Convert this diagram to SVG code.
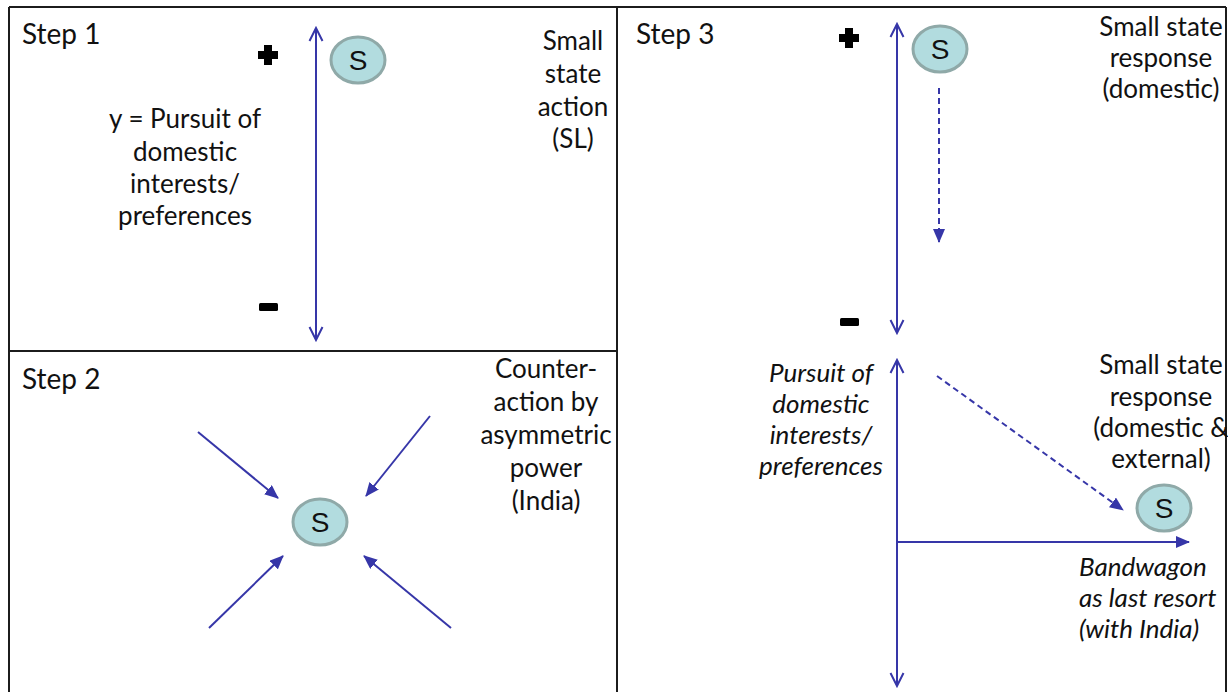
<svg xmlns="http://www.w3.org/2000/svg" width="1228" height="692" viewBox="0 0 1228 692">
  <style>
    .frame { stroke: #1c1c1c; stroke-width: 2; fill: none; }
    .ax { stroke: #3636A8; stroke-width: 2; fill: none; }
    .dash { stroke: #3636A8; stroke-width: 2; fill: none; stroke-dasharray: 6 4; }
    .lbl { font-family: Lato, "Liberation Sans", sans-serif; font-size: 26px; fill: #111; text-anchor: middle; }
    .it { font-style: italic; }
    .step { font-family: Lato, "Liberation Sans", sans-serif; font-size: 28px; fill: #111; }
    .node ellipse { fill: #B2DCDF; stroke: #8FA9A8; stroke-width: 3; }
    .node text { font-family: "Liberation Sans", Arial, sans-serif; font-size: 28px; fill: #111; text-anchor: middle; }
    .sign { fill: #000; }
  </style>
  <defs>
    <marker id="open" viewBox="0 0 16 16" refX="14" refY="8" markerWidth="16" markerHeight="16" markerUnits="userSpaceOnUse" orient="auto-start-reverse">
      <path d="M1,1.5 L14,8 L1,14.5" fill="none" stroke="#3636A8" stroke-width="2"/>
    </marker>
    <marker id="tri" viewBox="0 0 14 12" refX="13" refY="6" markerWidth="14" markerHeight="12" markerUnits="userSpaceOnUse" orient="auto">
      <path d="M0,0 L14,6 L0,12 Z" fill="#3636A8"/>
    </marker>
  </defs>

  <g id="frames">
    <line class="frame" x1="9" y1="7" x2="1226" y2="7"/>
    <line class="frame" x1="9" y1="7" x2="9" y2="692"/>
    <line class="frame" x1="617" y1="7" x2="617" y2="692"/>
    <line class="frame" x1="1226" y1="7" x2="1226" y2="692"/>
    <line class="frame" x1="9" y1="351" x2="617" y2="351"/>
  </g>

  <g id="connectors">
    <line class="ax" x1="316" y1="340" x2="316" y2="28" marker-start="url(#open)" marker-end="url(#open)"/>
    <line class="ax" x1="198" y1="432" x2="278" y2="498" marker-end="url(#tri)"/>
    <line class="ax" x1="430" y1="416" x2="366" y2="496" marker-end="url(#tri)"/>
    <line class="ax" x1="209" y1="628" x2="283" y2="556" marker-end="url(#tri)"/>
    <line class="ax" x1="451" y1="628" x2="364" y2="556" marker-end="url(#tri)"/>
    <line class="ax" x1="897" y1="333" x2="897" y2="24" marker-start="url(#open)" marker-end="url(#open)"/>
    <line class="dash" x1="939" y1="88" x2="939" y2="242" marker-end="url(#tri)"/>
    <line class="ax" x1="897" y1="686" x2="897" y2="360" marker-start="url(#open)" marker-end="url(#open)"/>
    <line class="ax" x1="897" y1="542" x2="1189" y2="542" marker-end="url(#tri)"/>
    <line class="dash" x1="937" y1="376" x2="1123" y2="510" marker-end="url(#tri)"/>
  </g>

  <g id="step1">
    <text class="step" x="22" y="44">Step 1</text>
    <g id="plus1"><path class="sign" d="M264,45 h8 v6 h6 v8 h-6 v6 h-8 v-6 h-6 v-8 h6 z"/></g>
    <rect id="minus1" class="sign" x="259" y="303" width="19" height="8" rx="1.5"/>
    <text class="lbl"><tspan x="185" y="128">y = Pursuit of</tspan><tspan x="185" y="161">domestic</tspan><tspan x="185" y="193">interests/</tspan><tspan x="185" y="225">preferences</tspan></text>
    <text class="lbl"><tspan x="573" y="50">Small</tspan><tspan x="573" y="83">state</tspan><tspan x="573" y="116">action</tspan><tspan x="573" y="148">(SL)</tspan></text>
    <g id="s1" class="node"><ellipse cx="358" cy="60" rx="27" ry="23"/><text x="358" y="70">S</text></g>
  </g>

  <g id="step2">
    <text class="step" x="22" y="389">Step 2</text>
    <text class="lbl"><tspan x="546" y="378">Counter-</tspan><tspan x="546" y="411">action by</tspan><tspan x="546" y="444">asymmetric</tspan><tspan x="546" y="477">power</tspan><tspan x="546" y="510">(India)</tspan></text>
    <g id="s2" class="node"><ellipse cx="320" cy="522" rx="27" ry="23"/><text x="320" y="532">S</text></g>
  </g>

  <g id="step3">
    <text class="step" x="636" y="44">Step 3</text>
    <g id="plus3"><path class="sign" d="M845,28 h8 v6 h6 v8 h-6 v6 h-8 v-6 h-6 v-8 h6 z"/></g>
    <rect id="minus3" class="sign" x="840" y="318" width="19" height="8" rx="1.5"/>
    <text class="lbl"><tspan x="1161" y="36">Small state</tspan><tspan x="1161" y="67">response</tspan><tspan x="1161" y="98">(domestic)</tspan></text>
    <g id="s3a" class="node"><ellipse cx="940" cy="49" rx="27" ry="23"/><text x="940" y="59">S</text></g>
    <text class="lbl it"><tspan x="821" y="382">Pursuit of</tspan><tspan x="821" y="413">domestic</tspan><tspan x="821" y="444">interests/</tspan><tspan x="821" y="475">preferences</tspan></text>
    <text class="lbl"><tspan x="1161" y="374">Small state</tspan><tspan x="1161" y="406">response</tspan><tspan x="1161" y="437">(domestic &amp;</tspan><tspan x="1161" y="468">external)</tspan></text>
    <g id="s3b" class="node"><ellipse cx="1164" cy="508" rx="27" ry="23"/><text x="1164" y="518">S</text></g>
    <text class="lbl it" style="text-anchor:start"><tspan x="1079" y="576">Bandwagon</tspan><tspan x="1079" y="607">as last resort</tspan><tspan x="1079" y="638">(with India)</tspan></text>
  </g>
</svg>
